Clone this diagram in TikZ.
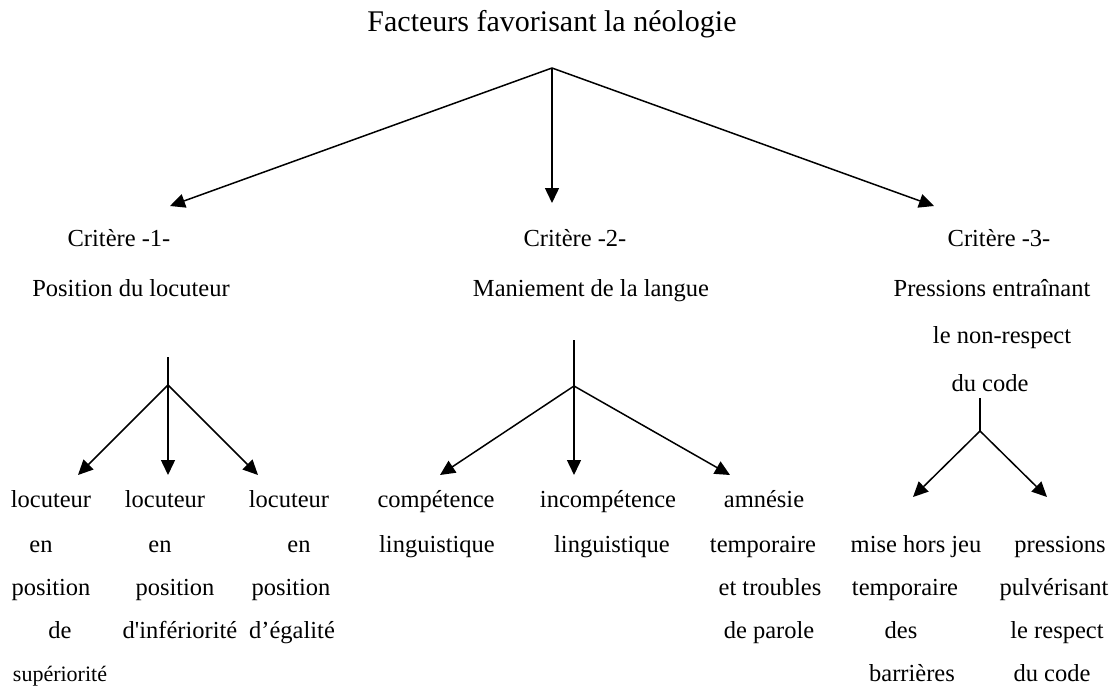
\documentclass[tikz,border=0pt]{standalone}
\usepackage{fontspec}
\setmainfont{Liberation Serif}
\newfontfamily\rawserif{Liberation Serif}[Ligatures=ResetAll]
\usetikzlibrary{arrows.meta}
\begin{document}
\begin{tikzpicture}[x=1pt,y=-1pt,
  txt/.style={inner sep=0pt,text height=11pt,text depth=0pt,font=\fontsize{24.5}{28}\selectfont},
  small/.style={txt,text height=10pt,font=\fontsize{22}{26}\selectfont},
  ttl/.style={inner sep=0pt,text height=13.5pt,text depth=0pt,font=\fontsize{30}{34}\selectfont},
  link/.style={line width=1.5pt},
  arr/.style={line width=1.5pt,-{Triangle[length=15pt,width=14pt]}}]
\useasboundingbox (0,0) rectangle (1115,687);
% title
\node[ttl] (title) at (552,25) {Facteurs favorisant la néologie};
\coordinate (top) at (552,68);
% criteria
\node[txt] (c1) at (119,241) {Critère -1-};
\node[txt] (c1b) at (131,291) {Position du locuteur};
\node[txt] (c2) at (575,241) {Critère -2-};
\node[txt] (c2b) at (591,291) {Maniement de la langue};
\node[txt] (c3) at (999,241) {Critère -3-};
\node[txt] (c3b) at (992,291) {Pressions entraînant};
\node[txt] (c3c) at (1002,338) {le non-respect};
\node[txt] (c3d) at (990,386) {du code};
\coordinate (tip1) at (170,206);
\coordinate (tip2) at (552,203);
\coordinate (tip3) at (934,206);
\draw[arr] (top) -- (tip1);
\draw[arr] (top) -- (tip2);
\draw[arr] (top) -- (tip3);
% tree 1
\coordinate (s1) at (168,357);
\coordinate (j1) at (168,385);
\coordinate (a1) at (78,475);
\coordinate (a2) at (168,475);
\coordinate (a3) at (258,475);
\draw[link] (s1) -- (j1);
\draw[arr] (j1) -- (a1);
\draw[arr] (j1) -- (a2);
\draw[arr] (j1) -- (a3);
\node[txt] (l1a) at (51,502) {locuteur};
\node[txt] (l1b) at (41,547) {en};
\node[txt] (l1c) at (51,590) {position};
\node[txt] (l1d) at (60,633) {de};
\node[small] (l1e) at (60,676) {supériorité};
\node[txt] (l2a) at (165,502) {locuteur};
\node[txt] (l2b) at (160,547) {en};
\node[txt] (l2c) at (175,590) {position};
\node[txt] (l2d) at (180,633) {d{\rawserif'}infériorité};
\node[txt] (l3a) at (289,502) {locuteur};
\node[txt] (l3b) at (299,547) {en};
\node[txt] (l3c) at (291,590) {position};
\node[txt] (l3d) at (292,633) {d’égalité};
% tree 2
\coordinate (s2) at (574,340);
\coordinate (j2) at (574,386);
\coordinate (b1) at (440,475);
\coordinate (b2) at (574,475);
\coordinate (b3) at (730,475);
\draw[link] (s2) -- (j2);
\draw[arr] (j2) -- (b1);
\draw[arr] (j2) -- (b2);
\draw[arr] (j2) -- (b3);
\node[txt] (m1a) at (436,502) {compétence};
\node[txt] (m1b) at (437,547) {linguistique};
\node[txt] (m2a) at (608,502) {incompétence};
\node[txt] (m2b) at (612,547) {linguistique};
\node[txt] (m3a) at (764,502) {amnésie};
\node[txt] (m3b) at (763,547) {temporaire};
\node[txt] (m3c) at (770,590) {et troubles};
\node[txt] (m3d) at (769,633) {de parole};
% tree 3
\coordinate (s3) at (980,398);
\coordinate (j3) at (980,431);
\coordinate (d1) at (913,497);
\coordinate (d2) at (1047,497);
\draw[link] (s3) -- (j3);
\draw[arr] (j3) -- (d1);
\draw[arr] (j3) -- (d2);
\node[txt] (p1a) at (916,547) {mise hors jeu};
\node[txt] (p1b) at (905,590) {temporaire};
\node[txt] (p1c) at (901,633) {des};
\node[txt] (p1d) at (912,676) {barrières};
\node[txt] (p2a) at (1060,547) {pressions};
\node[txt] (p2b) at (1054,590) {pulvérisant};
\node[txt] (p2c) at (1057,633) {le respect};
\node[txt] (p2d) at (1052,676) {du code};
\end{tikzpicture}
\end{document}
